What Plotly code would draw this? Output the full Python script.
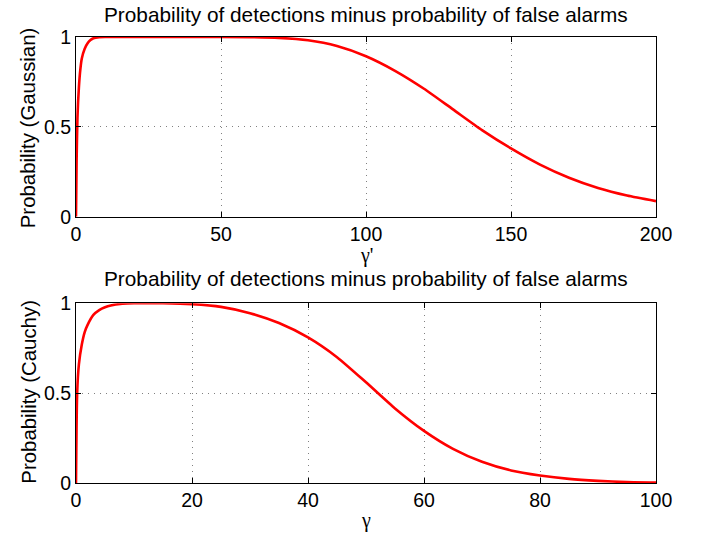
import plotly.graph_objects as go
from plotly.subplots import make_subplots

# Top panel (Gaussian): gamma' vs probability
x_top = [0, 0.2, 0.5, 1, 1.5, 2, 3, 4, 5, 6, 8, 10, 20, 40, 60, 70, 80, 90, 100,
         110, 120, 130, 140, 150, 160, 170, 180, 190, 200]
y_top = [0, 0.30, 0.55, 0.72, 0.82, 0.88, 0.935, 0.965, 0.983, 0.993, 0.999, 1.0, 1.0, 1.0,
         0.999, 0.995, 0.982, 0.95, 0.893, 0.812, 0.712, 0.597, 0.482, 0.38, 0.29,
         0.217, 0.16, 0.118, 0.087]

# Bottom panel (Cauchy): gamma vs probability
x_bot = [0, 0.2, 0.5, 1, 1.5, 2, 3, 4, 5, 6, 8, 10, 15, 20, 25, 30, 35, 40, 45, 50,
         55, 60, 65, 70, 75, 80, 85, 90, 95, 100]
y_bot = [0, 0.50, 0.66, 0.77, 0.84, 0.88, 0.935, 0.962, 0.978, 0.988, 0.997, 1.0, 1.0,
         0.995, 0.98, 0.945, 0.89, 0.81, 0.70, 0.56, 0.415, 0.29, 0.19, 0.118,
         0.07, 0.042, 0.023, 0.012, 0.005, 0.002]

title_text = "Probability of detections minus probability of false alarms"
top_ticks = [0, 50, 100, 150, 200]
bot_ticks = [0, 20, 40, 60, 80, 100]
y_ticks = [0, 0.5, 1]

fig = make_subplots(rows=2, cols=1, vertical_spacing=0.194)

line_style = dict(color="#ff0000", width=2.6, shape="spline", smoothing=0.6)
fig.add_trace(go.Scatter(x=x_top, y=y_top, mode="lines", line=line_style,
                         showlegend=False), row=1, col=1)
fig.add_trace(go.Scatter(x=x_bot, y=y_bot, mode="lines", line=line_style,
                         showlegend=False), row=2, col=1)

font_main = "Liberation Sans, Arial, sans-serif"
axis_common = dict(
    showline=True, linecolor="black", linewidth=1, mirror="ticks",
    ticks="inside", ticklen=5, tickcolor="black", tickwidth=1,
    showgrid=True, gridcolor="#808080", griddash="1px,5px", gridwidth=1,
    zeroline=False, tickfont=dict(family=font_main, size=19.5, color="black"),
)

fig.update_xaxes(range=[0, 200], tickvals=top_ticks, row=1, col=1, **axis_common)
fig.update_xaxes(range=[0, 100], tickvals=bot_ticks, row=2, col=1, **axis_common)
fig.update_yaxes(range=[0, 1], tickvals=y_ticks, ticktext=["0", "0.5", "1"], row=1, col=1, **axis_common)
fig.update_yaxes(range=[0, 1], tickvals=y_ticks, ticktext=["0", "0.5", "1"], row=2, col=1, **axis_common)

fig.update_layout(
    width=709, height=533,
    margin=dict(l=75.5, r=53, t=36.7, b=49.7),
    paper_bgcolor="white", plot_bgcolor="white",
    font=dict(family=font_main, size=20, color="black"),
)
fig.update_yaxes(domain=[0.597, 1.0], row=1, col=1)
fig.update_yaxes(domain=[0.0, 0.403], row=2, col=1)

serif = "Liberation Serif, DejaVu Serif, serif"
ann = [
    dict(text=title_text, x=0.5, y=1.051, xref="paper", yref="paper",
         xanchor="center", yanchor="middle", showarrow=False, font=dict(size=20.8)),
    dict(text=title_text, x=0.5, y=0.4575, xref="paper", yref="paper",
         xanchor="center", yanchor="middle", showarrow=False, font=dict(size=20.8)),
    dict(text="γ'", x=0.5, y=0.511, xref="paper", yref="paper",
         xanchor="center", yanchor="middle", showarrow=False, font=dict(size=20, family=serif)),
    dict(text="γ", x=0.5, y=-0.084, xref="paper", yref="paper",
         xanchor="center", yanchor="middle", showarrow=False, font=dict(size=20, family=serif)),
    dict(text="Probability (Gaussian)", x=-0.0826, y=0.7956, xref="paper", yref="paper",
         xanchor="center", yanchor="middle", textangle=-90, showarrow=False, font=dict(size=20.4)),
    dict(text="Probability (Cauchy)", x=-0.0826, y=0.205, xref="paper", yref="paper",
         xanchor="center", yanchor="middle", textangle=-90, showarrow=False, font=dict(size=20.4)),
]
fig.update_layout(annotations=ann)

fig.write_html("out.html", config={"displayModeBar": False},
               post_script="document.body.style.margin='0';")
